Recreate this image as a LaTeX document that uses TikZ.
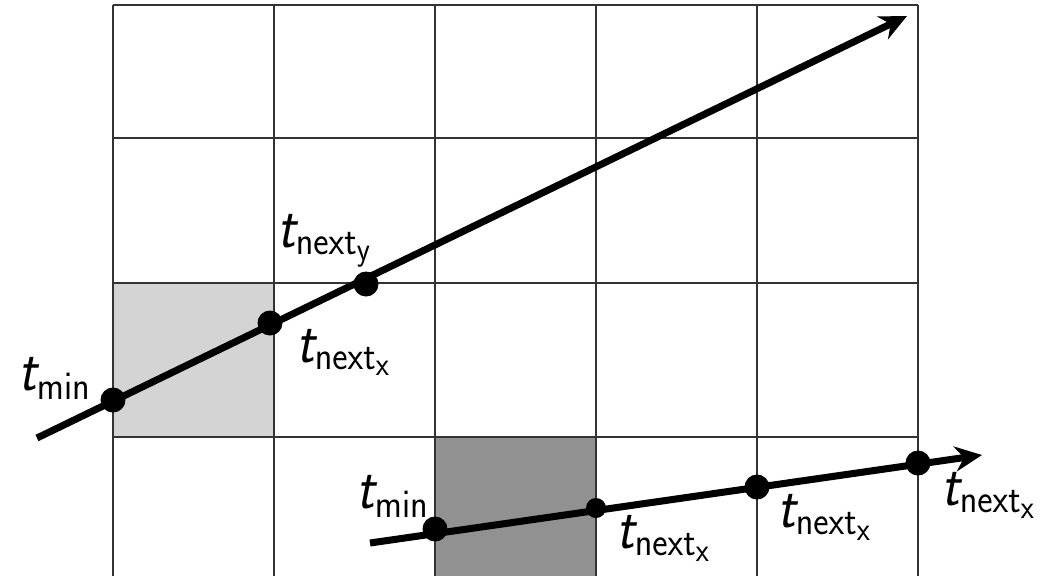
\documentclass[tikz,border=0pt]{standalone}
\usepackage{amsmath}
\usepackage{graphicx}
\usetikzlibrary{arrows.meta}

\DeclareMathSizes{31}{31}{22.5}{17.5}
\newcommand{\tsub}[1]{\scalebox{1}[1.1]{$\textsf{\itshape t}_{\mathsf{#1}}$}}
\newcommand{\tnext}[1]{\scalebox{1}[1.1]{$\textsf{\itshape t}_{\mathsf{next}_{\mathsf{#1}}}$}}

\tikzset{
  gridline/.style={draw=black!80, line width=0.8pt},
  ray/.style={line width=4pt, -{Stealth[length=0.54cm, width=0.5cm]}},
  dot/.style={circle, fill=black, inner sep=0pt, minimum size=#1},
  dot/.default=0.5cm,
  lbl/.style={font=\fontsize{31}{37}\selectfont, inner sep=0pt},
}

\begin{document}
\begin{tikzpicture}[x=0.02cm, y=-0.02cm]
  \useasboundingbox (0,0) rectangle (1049,576);

  % shaded cells
  \fill[black!17] (113,283) rectangle (274,437);
  \fill[black!43] (435,437) rectangle (596,576);

  % grid
  \foreach \x in {113,274,435,596,757,918}
    \draw[gridline] (\x,5) -- (\x,576);
  \foreach \y in {5,138,283,437}
    \draw[gridline] (113,\y) -- (918,\y);

  % first ray
  \coordinate (ra) at (37,438);
  \coordinate (rb) at (907,16);
  \draw[ray] (ra) -- (rb);
  \node[dot] (amin) at (113,400) {};
  \node[dot] (anx) at (270,323) {};
  \node[dot] (any) at (366,284) {};
  \node[lbl, anchor=base east] (lamin) at (91,390) {\tsub{min}};
  \node[lbl, anchor=base west] (lanx) at (296,362) {\tnext{x}};
  \node[lbl, anchor=base west] (lany) at (277,247) {\tnext{y}};

  % second ray
  \coordinate (sa) at (370,543);
  \coordinate (sb) at (982,455);
  \draw[ray] (sa) -- (sb);
  \node[dot] (bmin) at (435,529) {};
  \node[dot=0.4cm] (bnx) at (596,508) {};
  \node[dot] (bnx2) at (757,487) {};
  \node[dot] (bnx3) at (918,463) {};
  \node[lbl, anchor=base east] (lbmin) at (429,508) {\tsub{min}};
  \node[lbl, anchor=base west] (lbnx) at (616,548) {\tnext{x}};
  \node[lbl, anchor=base west] (lbnx2) at (777,527) {\tnext{x}};
  \node[lbl, anchor=base west] (lbnx3) at (941,505) {\tnext{x}};
\end{tikzpicture}
\end{document}
